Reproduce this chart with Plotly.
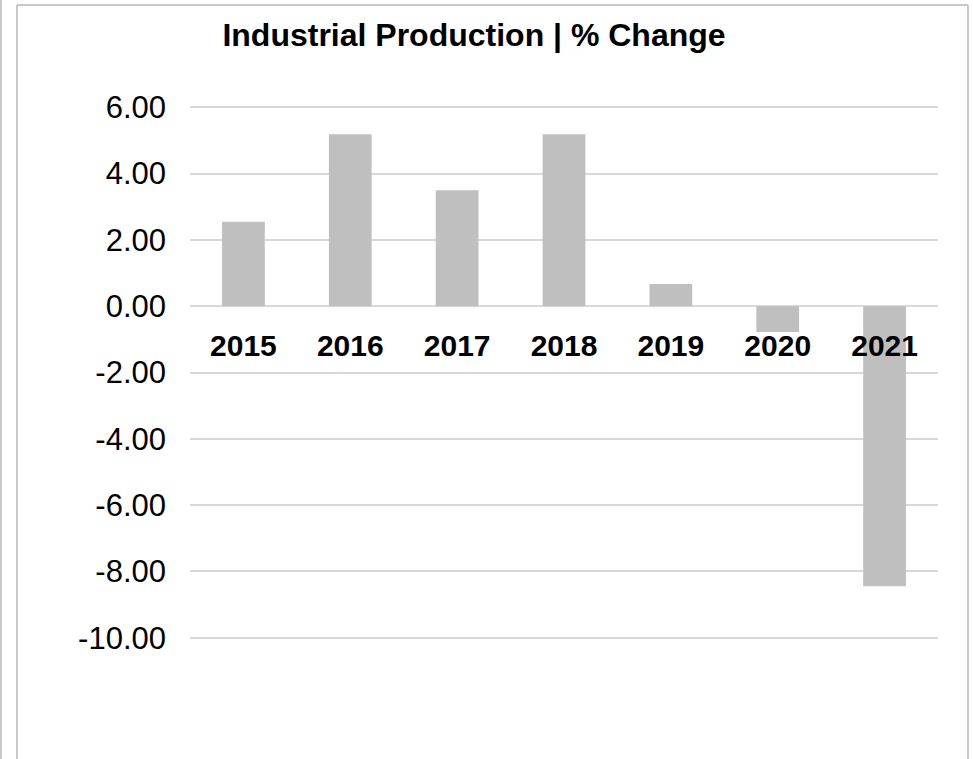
import plotly.graph_objects as go

# Annual industrial production growth, percent
years = ["2015", "2016", "2017", "2018", "2019", "2020", "2021"]
pct_change = [2.55, 5.19, 3.50, 5.19, 0.67, -0.78, -8.45]
y_ticks = [6, 4, 2, 0, -2, -4, -6, -8, -10]

W, H = 973, 759
L, R, T, B = 190, 35, 104, 118
plot_w = W - L - R
plot_h = H - T - B


def px_x(px):
    return (px - L) / plot_w


def px_y(py):
    return (H - B - py) / plot_h


fig = go.Figure(
    go.Bar(
        x=years,
        y=pct_change,
        width=0.4,
        marker=dict(color="#bfbfbf", line=dict(width=0)),
        hoverinfo="x+y",
    )
)

# small padding so the outer gridlines (6 and -10) are drawn
y_min, y_max = -10.1, 6.1
zero_pos = (0 - y_min) / (y_max - y_min)

border = dict(color="#c8c8c8", width=2)
fig.update_layout(
    width=W,
    height=H,
    margin=dict(l=L, r=R, t=T, b=B, pad=0),
    paper_bgcolor="white",
    plot_bgcolor="white",
    showlegend=False,
    title=dict(
        text="<b>Industrial Production | % Change</b>",
        x=474 / W,
        xref="container",
        xanchor="center",
        y=1 - 35 / H,
        yref="container",
        yanchor="middle",
        font=dict(family="Liberation Sans, Arial", size=32, color="black"),
    ),
    xaxis=dict(
        type="category",
        range=[-0.5, len(years) - 0.5],
        anchor="free",
        position=zero_pos,
        showline=False,
        showgrid=False,
        zeroline=False,
        ticks="",
        ticklabelstandoff=19,
        tickfont=dict(family="Liberation Sans, Arial", size=30, color="black", weight="bold"),
    ),
    yaxis=dict(
        range=[y_min, y_max],
        tickvals=y_ticks,
        ticktext=[f"{v:.2f}" for v in y_ticks],
        showgrid=True,
        gridcolor="#d9d9d9",
        gridwidth=1.5,
        zeroline=False,
        showline=False,
        ticks="",
        ticklabelstandoff=23,
        tickfont=dict(family="Liberation Sans, Arial", size=31, color="black"),
    ),
    shapes=[
        dict(type="line", xref="paper", yref="paper",
             x0=px_x(1), x1=px_x(1), y0=px_y(0), y1=px_y(H), line=border),
        dict(type="line", xref="paper", yref="paper",
             x0=px_x(17), x1=px_x(17), y0=px_y(5), y1=px_y(H), line=border),
        dict(type="line", xref="paper", yref="paper",
             x0=px_x(17), x1=px_x(968), y0=px_y(5), y1=px_y(5), line=border),
        dict(type="line", xref="paper", yref="paper",
             x0=px_x(968), x1=px_x(968), y0=px_y(5), y1=px_y(H), line=border),
    ],
)

fig.write_html("out.html")
